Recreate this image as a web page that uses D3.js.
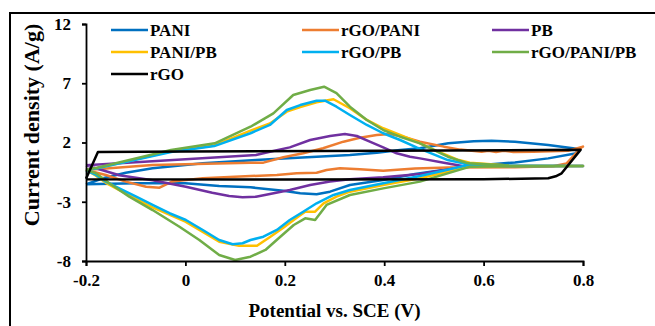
<!DOCTYPE html>
<html>
<head>
<meta charset="utf-8">
<script src="https://cdn.jsdelivr.net/npm/d3@7"></script>
<style>
  body { margin: 0; background: #fff; }
  text { font-family: 'Liberation Serif', 'Times New Roman', serif; font-weight: bold; fill: #000; }
</style>
</head>
<body>
<div id="chart"></div>
<script>
// tick values
var xTicks = [-0.2, 0, 0.2, 0.4, 0.6, 0.8];
var yTicks = [-8, -3, 2, 7, 12];

// series names, in legend order
var seriesNames = ['PANI', 'rGO/PANI', 'PB', 'PANI/PB', 'rGO/PB', 'rGO/PANI/PB', 'rGO'];
var seriesColors = ['#0070C0', '#ED7D31', '#7030A0', '#FFC000', '#00B0F0', '#70AD47', '#000000'];

// [potential V, current A/g], forward scan then reverse
var pani = [[-0.2,-1.53],[-0.166,-1.02],[-0.12,-0.55],[-0.066,-0.18],[0.035,0.24],[0.142,0.52],[0.197,0.66],[0.264,0.8],[0.331,0.94],[0.385,1.14],[0.432,1.37],[0.472,1.51],[0.529,1.93],[0.58,2.1],[0.616,2.15],[0.663,2.07],[0.73,1.79],[0.795,1.43],
  [0.784,1.08],[0.73,0.66],[0.663,0.32],[0.596,0.1],[0.529,-0.26],[0.462,-0.66],[0.398,-1.16],[0.331,-1.59],[0.291,-2.15],[0.264,-2.37],[0.231,-2.29],[0.197,-2.07],[0.131,-1.78],[0.068,-1.67],[0.0,-1.44],[-0.1,-1.44],[-0.2,-1.53]];
var rgoPani = [[-0.2,-0.32],[-0.066,0.1],[0.131,0.3],[0.157,0.3],[0.197,0.76],[0.237,1.09],[0.277,1.51],[0.318,2.07],[0.351,2.4],[0.385,2.63],[0.412,2.72],[0.438,2.49],[0.472,2.07],[0.52,1.65],[0.553,1.4],[0.596,1.22],[0.61,1.3],[0.625,1.2],[0.64,1.3],[0.66,1.2],[0.7,1.22],[0.77,1.3],[0.8,1.65],
  [0.797,1.59],[0.767,0.24],[0.74,0.0],[0.663,-0.09],[0.529,-0.1],[0.462,-0.2],[0.398,-0.38],[0.351,-0.26],[0.311,-0.18],[0.284,-0.32],[0.264,-0.55],[0.224,-0.6],[0.184,-0.74],[0.131,-0.83],[0.035,-1.02],[-0.027,-1.3],[-0.052,-1.81],[-0.079,-1.73],[-0.12,-1.3],[-0.16,-0.74],[-0.2,-0.32]];
var pb = [[-0.2,0.08],[0.142,0.94],[0.17,1.22],[0.21,1.59],[0.251,2.21],[0.291,2.55],[0.321,2.72],[0.345,2.55],[0.371,2.07],[0.398,1.59],[0.425,1.09],[0.452,0.8],[0.472,0.66],[0.52,0.3],[0.563,-0.02],[0.65,0.02],[0.8,0.02],
  [0.65,0.0],[0.563,-0.04],[0.472,-0.66],[0.398,-0.94],[0.331,-1.1],[0.291,-1.3],[0.251,-1.59],[0.21,-2.01],[0.17,-2.35],[0.142,-2.57],[0.115,-2.63],[0.088,-2.51],[0.054,-2.24],[0.001,-1.73],[-0.066,-1.18],[-0.133,-0.76],[-0.2,0.08]];
var paniPb = [[-0.2,-0.3],[-0.18,-0.2],[-0.029,1.25],[0.058,1.75],[0.131,3.0],[0.17,3.6],[0.204,4.6],[0.231,5.0],[0.264,5.4],[0.298,5.65],[0.331,4.89],[0.365,3.9],[0.398,3.2],[0.432,2.63],[0.465,2.07],[0.516,1.09],[0.55,0.52],[0.572,0.3],[0.65,0.05],[0.8,0.02],
  [0.65,0.0],[0.569,-0.05],[0.472,-1.02],[0.398,-1.59],[0.331,-2.15],[0.304,-2.57],[0.278,-3.13],[0.261,-3.84],[0.241,-3.84],[0.224,-4.35],[0.197,-5.19],[0.171,-5.95],[0.144,-6.71],[0.108,-6.72],[0.068,-6.37],[0.035,-5.55],[0.0,-4.68],[-0.066,-3.47],[-0.133,-2.01],[-0.16,-1.4],[-0.18,-0.8],[-0.2,-0.3]];
var rgoPb = [[-0.2,-0.35],[-0.18,-0.2],[-0.029,1.2],[0.058,1.7],[0.131,2.78],[0.17,3.48],[0.204,4.74],[0.231,5.16],[0.264,5.53],[0.281,5.53],[0.304,5.02],[0.331,4.32],[0.365,3.48],[0.398,2.78],[0.432,2.21],[0.465,1.59],[0.528,0.52],[0.576,0.1],[0.65,0.03],[0.8,0.02],
  [0.65,0.02],[0.569,0.1],[0.472,-0.83],[0.398,-1.44],[0.331,-2.01],[0.298,-2.43],[0.264,-3.13],[0.237,-3.84],[0.21,-4.54],[0.184,-5.38],[0.157,-5.95],[0.131,-6.23],[0.115,-6.5],[0.095,-6.59],[0.068,-6.23],[0.035,-5.38],[0.001,-4.54],[-0.032,-3.97],[-0.066,-3.27],[-0.099,-2.57],[-0.133,-1.87],[-0.16,-1.3],[-0.18,-0.74],[-0.2,-0.35]];
var rgoPaniPb = [[-0.2,-0.3],[-0.18,-0.15],[-0.029,1.37],[0.059,1.93],[0.131,3.33],[0.177,4.46],[0.217,6.01],[0.251,6.43],[0.279,6.71],[0.304,6.17],[0.331,5.02],[0.365,3.9],[0.398,3.05],[0.432,2.49],[0.472,1.93],[0.528,0.8],[0.569,0.24],[0.65,0.05],[0.8,0.02],
  [0.65,0.0],[0.573,-0.04],[0.472,-1.3],[0.398,-1.87],[0.331,-2.43],[0.284,-3.27],[0.261,-4.54],[0.241,-4.4],[0.218,-4.96],[0.191,-5.95],[0.161,-7.07],[0.131,-7.64],[0.1,-7.92],[0.068,-7.49],[0.028,-6.23],[-0.012,-5.11],[-0.066,-3.7],[-0.113,-2.57],[-0.153,-1.44],[-0.18,-0.6],[-0.2,-0.3]];
var rgo = [[-0.2,-1.05],[-0.176,1.2],[0.0,1.24],[0.4,1.3],[0.795,1.38],[0.757,-0.6],[0.745,-0.85],[0.73,-1.02],[0.6,-1.1],[0.2,-1.12],[-0.2,-1.1]];

var allSeries = [pani, rgoPani, pb, paniPb, rgoPb, rgoPaniPb, rgo];

var width = 655, height = 326;
var margin = { top: 24, right: 72, bottom: 65, left: 86 };

var svg = d3.select('#chart').append('svg')
        .attr('width', width)
        .attr('height', height);

// outer frame, only top and left edges are inside the window
svg.append('rect')
        .attr('x', 10).attr('y', 13)
        .attr('width', 700).attr('height', 400)
        .attr('fill', 'none')
        .attr('stroke', '#000')
        .attr('stroke-width', 2);

var xscale = d3.scaleLinear().domain([-0.2, 0.8]).range([margin.left, width - margin.right]);
var yscale = d3.scaleLinear().domain([-8, 12]).range([height - margin.bottom, margin.top]);

var line = d3.line()
        .x(function (d) { return xscale(d[0]); })
        .y(function (d) { return yscale(d[1]); });

// curves
svg.append('g').selectAll('path')
        .data(allSeries)
        .enter().append('path')
        .attr('d', line)
        .attr('fill', 'none')
        .attr('stroke', function (d, i) { return seriesColors[i]; })
        .attr('stroke-width', 2.5)
        .attr('stroke-linejoin', 'round');

// axes (plain hyphen for negatives, like the original)
var xAxis = svg.append('g')
        .attr('transform', 'translate(0,' + (height - margin.bottom) + ')')
        .call(d3.axisBottom(xscale).tickValues(xTicks).tickSize(5).tickPadding(8)
                .tickFormat(function (d) { return d === 0 ? '0' : d.toFixed(1); }));
var yAxis = svg.append('g')
        .attr('transform', 'translate(' + margin.left + ',0)')
        .call(d3.axisLeft(yscale).tickValues(yTicks).tickSize(4).tickPadding(11)
                .tickFormat(function (d) { return String(d); }));

[xAxis, yAxis].forEach(function (a) {
        a.select('.domain').attr('stroke', '#000').attr('stroke-width', 1.8);
        a.selectAll('.tick line').attr('stroke', '#000').attr('stroke-width', 1.8);
        a.selectAll('.tick text').style('font-size', '17px').attr('fill', '#000')
                .style('font-family', "'Liberation Serif', 'Times New Roman', serif")
                .style('font-weight', 'bold');
});

// axis titles
svg.append('text')
        .attr('x', (margin.left + width - margin.right) / 2)
        .attr('y', 317)
        .attr('text-anchor', 'middle')
        .style('font-size', '19px')
        .text('Potential vs. SCE (V)');

svg.append('text')
        .attr('transform', 'translate(39,125) rotate(-90)')
        .attr('text-anchor', 'middle')
        .style('font-size', '22px')
        .text('Current density (A/g)');

// legend, three columns
var legX = [111, 302, 492];
var legY = [30, 52, 74];
var leg = svg.append('g').selectAll('g')
        .data(seriesNames)
        .enter().append('g')
        .attr('transform', function (d, i) { return 'translate(' + legX[i % 3] + ',' + legY[Math.floor(i / 3)] + ')'; });
leg.append('line')
        .attr('x1', 0).attr('x2', 37)
        .attr('stroke', function (d, i) { return seriesColors[i]; })
        .attr('stroke-width', 2.5);
leg.append('text')
        .attr('x', 39)
        .attr('dy', '0.35em')
        .style('font-size', '17px')
        .text(function (d) { return d; });
</script>
</body>
</html>
